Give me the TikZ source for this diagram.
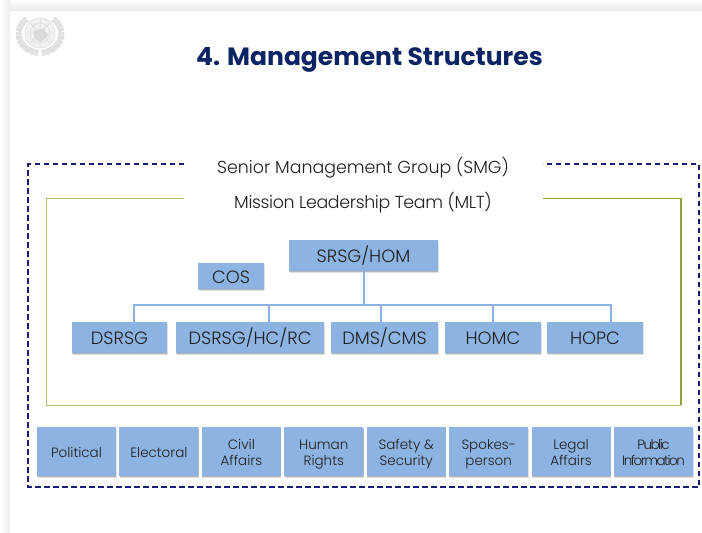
\documentclass[tikz,border=0pt]{standalone}
\usepackage{fontspec}
\setmainfont{Poppins}[UprightFont=* Light, BoldFont=* Bold]
\usepackage{tikz}
\usetikzlibrary{positioning,shadows}

\definecolor{boxblue}{HTML}{8DB3E2}
\definecolor{titleblue}{HTML}{0B2463}
\definecolor{smgblue}{HTML}{1B1B7A}
\definecolor{mltgreen}{HTML}{8FA33A}
\definecolor{labelgray}{HTML}{1F1F1F}
\definecolor{emblemgray}{HTML}{DADADA}

\newcommand{\utop}{\rule[-4pt]{0pt}{20pt}}
\newcommand{\ubot}{\rule[-4pt]{0pt}{16pt}}

\tikzset{
  softshadow/.style={drop shadow={shadow xshift=0.3pt, shadow yshift=-1pt, opacity=0.2, fill=black},
    drop shadow={shadow xshift=0.6pt, shadow yshift=-2pt, opacity=0.12, fill=black}},
  lead/.style={softshadow, fill=boxblue, inner sep=0pt, outer sep=0pt, text=labelgray, font=\fontsize{17.8}{20}\selectfont,
    text height=17pt, text depth=3pt, minimum height=31pt},
  unit/.style={softshadow, fill=boxblue, inner sep=0pt, outer sep=0pt, text=labelgray, font=\fontsize{13.5}{16}\selectfont, align=center,
    minimum width=79pt, minimum height=49pt},
  grouplabel/.style={text=labelgray, font=\fontsize{17.4}{20}\selectfont, inner sep=0pt, text height=17pt, text depth=3pt},
  conn/.style={draw=boxblue, line width=1.4pt},
  emblem/.style={draw=emblemgray, line width=0.5pt}
}

\begin{document}
\begin{tikzpicture}[x=1pt, y=-1pt, node distance=3.43pt and 3.43pt]
      \useasboundingbox (0,0) rectangle (702,533);

      % slide edge
      \fill[white] (0,0) rectangle (702,533);
      \shade[top color=white, bottom color=black!8] (0,0) rectangle (702,10);
      \shade[left color=white, right color=black!7] (0,0) rectangle (10,533);

      % emblem
      \draw[emblem, emblemgray!85, line width=6pt, dash pattern=on 3.5pt off 0.5pt] (27,19) .. controls (14,26) and (15,49) .. (38,53);
      \draw[emblem, emblemgray!85, line width=6pt, dash pattern=on 3.5pt off 0.5pt] (53,19) .. controls (66,26) and (65,49) .. (42,53);
      \fill[emblemgray!35] (40,33) circle (15);
      \draw[emblem] (40,33) circle (15);
      \draw[emblem] (40,33) circle (10);
      \draw[emblem] (25,33) -- (55,33) (40,18) -- (40,48) (29.5,22.5) -- (50.5,43.5) (50.5,22.5) -- (29.5,43.5);
      \fill[emblemgray] (33,31) -- (44,28) -- (48,36) -- (41,42) -- (35,39) -- cycle;

      \node[font=\fontsize{25}{30}\selectfont\bfseries, text=titleblue, inner sep=0pt, anchor=base] (title) at (369.5,65.5) {4. Management Structures};

      \node[grouplabel] (smg) at (363,166.3) {Senior Management Group (SMG)};
      \node[grouplabel] (mlt) at (363,201.3) {\addfontfeature{LetterSpace=-2}Mission Leadership Team (MLT)};

      % open frames
      \coordinate (smgl) at (184,164);
      \coordinate (smgr) at (543,164);
      \coordinate (mltl) at (184,198.5);
      \coordinate (mltr) at (543,198.5);
      \draw[smgblue, line width=1.4pt, dash pattern=on 5.5pt off 3.5pt] (smgl) -- (28,164) -- (28,487) -- (699,487) -- (699,164) -- (smgr);
      \draw[mltgreen!70, line width=1pt] (mltl) -- (46,198.5) -- (46,405) -- (681,405);
      \draw[mltgreen, line width=1.1pt] (mltr) -- (681,198.5) -- (681,405);

      \node[lead, minimum width=149pt] (srsg) at (363.5,255.5) {SRSG/HOM};
      \node[lead, minimum width=66pt, minimum height=26pt] (cos) at (231,276) {COS};

      \node[lead, minimum width=95pt] (dsrsg) at (119.5,337.5) {DSRSG};
      \node[lead, minimum width=148pt] (dsrsghc) [right=9pt of dsrsg] {DSRSG/HC/RC};
      \node[lead, minimum width=107pt] (dms) [right=7pt of dsrsghc] {DMS/CMS};
      \node[lead, minimum width=96pt] (homc) [right=7pt of dms] {HOMC};
      \node[lead, minimum width=96pt] (hopc) [right=6pt of homc] {HOPC};

      \coordinate (busl) at (134,305);
      \coordinate (busr) at (611,305);
      \coordinate (dropsrsg) at (364,305);
      \coordinate (drophc) at (269,305);
      \coordinate (dropdms) at (381,305);
      \coordinate (drophomc) at (493,305);
      \draw[conn] (dropsrsg |- srsg.south) -- (dropsrsg);
      \draw[conn] (busl |- dsrsg.north) -- (busl) -- (busr) -- (busr |- hopc.north);
      \draw[conn] (drophc) -- (drophc |- dsrsghc.north);
      \draw[conn] (dropdms) -- (dropdms |- dms.north);
      \draw[conn] (drophomc) -- (drophomc |- homc.north);

      \node[unit] (political) at (76.5,451.5) {\utop Political};
      \node[unit] (electoral) [right=of political] {\utop Electoral};
      \node[unit] (civil) [right=of electoral] {\utop Civil\\\ubot Affairs};
      \node[unit] (human) [right=of civil] {\utop Human\\\ubot Rights};
      \node[unit] (safety) [right=of human] {\utop Safety \&\\\ubot Security};
      \node[unit] (spokes) [right=of safety] {\utop Spokes-\\\ubot person};
      \node[unit] (legal) [right=of spokes] {\utop Legal\\\ubot Affairs};
      \node[unit] (public) [right=of legal] {\addfontfeature{LetterSpace=-11}\utop Public\\\addfontfeature{LetterSpace=-11}\ubot Information};
    \end{tikzpicture}
\end{document}
